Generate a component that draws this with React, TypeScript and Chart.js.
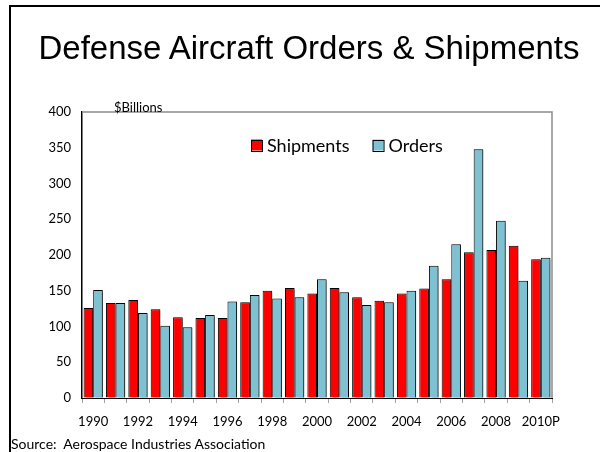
import React, { useEffect, useRef } from "react";
import { Chart, registerables } from "chart.js";

Chart.register(...registerables);

const years = ["1990","1991","1992","1993","1994","1995","1996","1997","1998","1999","2000","2001","2002","2003","2004","2005","2006","2007","2008","2009","2010P"];
const shipments = [126,133,137,124,113,112,112,134,150,154,146,154,141,136,146,153,166,204,207,213,194];
const orders = [151,133,119,101,99,116,135,144,139,141,166,148,130,134,150,185,215,348,248,164,196];
const yTicks = [0,50,100,150,200,250,300,350,400];
const seriesNames = ["Shipments","Orders"];
const FONT = "Lato, 'Open Sans', sans-serif";

const plotPlugin = {
  id: "plotDecor",
  beforeDatasetsDraw(chart: any) {
    const ctx = chart.ctx;
    ctx.save();
    ctx.shadowColor = "rgba(0,0,0,0.45)";
    ctx.shadowOffsetX = 2;
    ctx.shadowOffsetY = 1;
    ctx.shadowBlur = 2;
  },
  afterDatasetsDraw(chart: any) {
    const ctx = chart.ctx;
    ctx.restore();
    const a = chart.chartArea;
    ctx.save();
    ctx.strokeStyle = "#8c8c8c";
    ctx.lineWidth = 1.5;
    ctx.beginPath();
    ctx.moveTo(a.left, a.top);
    ctx.lineTo(a.right, a.top);
    ctx.lineTo(a.right, a.bottom);
    ctx.stroke();
    // legend
    ctx.font = `18px ${FONT}`;
    ctx.textBaseline = "middle";
    const ds = chart.data.datasets;
    const box = 11, gapT = 5, gapI = 23;
    let total = 0;
    ds.forEach((d: any, i: number) => {
      total += box + gapT + ctx.measureText(d.label).width + (i < ds.length - 1 ? gapI : 0);
    });
    let x = Math.round(347 - total / 2);
    const y = 145;
    ds.forEach((d: any) => {
      ctx.fillStyle = d.backgroundColor;
      ctx.fillRect(x, y - box / 2, box, box);
      ctx.strokeStyle = "#000";
      ctx.lineWidth = 1;
      ctx.strokeRect(x + 0.5, Math.round(y - box / 2) + 0.5, box, box);
      ctx.fillStyle = "#000";
      ctx.textAlign = "left";
      ctx.fillText(d.label, x + box + gapT, y + 1);
      x += box + gapT + ctx.measureText(d.label).width + gapI;
    });
    ctx.restore();
  },
};

export default function App() {
  const ref = useRef<HTMLCanvasElement>(null);
  useEffect(() => {
    if (!ref.current) return;
    const chart = new Chart(ref.current, {
      type: "bar",
      data: {
        labels: years,
        datasets: [
          { label: seriesNames[0], data: shipments, backgroundColor: "#ff0000", borderColor: "#000", borderWidth: 1 },
          { label: seriesNames[1], data: orders, backgroundColor: "#7dc1d3", borderColor: "#000", borderWidth: 1 },
        ],
      },
      options: {
        responsive: false,
        animation: false,
        layout: { padding: { left: 0, right: 48, top: 112, bottom: 0 } },
        datasets: { bar: { categoryPercentage: 0.86, barPercentage: 1 } },
        plugins: { legend: { display: false }, tooltip: { enabled: false } },
        scales: {
          x: {
            afterFit: (s: any) => { s.height = 54; },
            grid: { offset: true, drawOnChartArea: false, drawTicks: true, tickLength: 5, tickColor: "#a0a0a0" },
            border: { color: "#000", width: 1 },
            ticks: {
              autoSkip: false,
              maxRotation: 0,
              padding: 11,
              color: "#000",
              font: { family: FONT, size: 13 },
              callback: (_v: any, i: number) => (i % 2 === 0 ? years[i] : ""),
            },
          },
          y: {
            min: 0,
            max: 400,
            afterFit: (s: any) => { s.width = 82; },
            afterBuildTicks: (s: any) => { s.ticks = yTicks.map((v) => ({ value: v })); },
            grid: { drawOnChartArea: false, drawTicks: false },
            border: { color: "#000", width: 1.5 },
            ticks: { padding: 11, color: "#000", font: { family: FONT, size: 13 } },
          },
        },
      },
      plugins: [plotPlugin],
    });
    return () => chart.destroy();
  }, []);

  return (
    <div style={{ position: "fixed", left: 0, top: 0, width: 600, height: 452, background: "#fff", overflow: "hidden" }}>
      <div style={{ position: "absolute", left: 9, top: 5, right: -10, bottom: -10, borderLeft: "2px solid #000", borderTop: "2px solid #000" }} />
      <canvas ref={ref} width={600} height={452} style={{ position: "absolute", left: 0, top: 0 }} />
      <div style={{ position: "absolute", left: 0, width: 618, top: 28, textAlign: "center", fontFamily: "'Liberation Sans', Arial, sans-serif", fontSize: 33, color: "#000", whiteSpace: "nowrap", lineHeight: "40px" }}>
        Defense Aircraft Orders &amp; Shipments
      </div>
      <div style={{ position: "absolute", left: 114, top: 99, fontFamily: FONT, fontSize: 13, color: "#000", lineHeight: "16px" }}>$Billions</div>
      <div style={{ position: "absolute", left: 11, top: 436, fontFamily: FONT, fontSize: 14, color: "#000", lineHeight: "16px", whiteSpace: "pre" }}>Source:  Aerospace Industries Association</div>
    </div>
  );
}
